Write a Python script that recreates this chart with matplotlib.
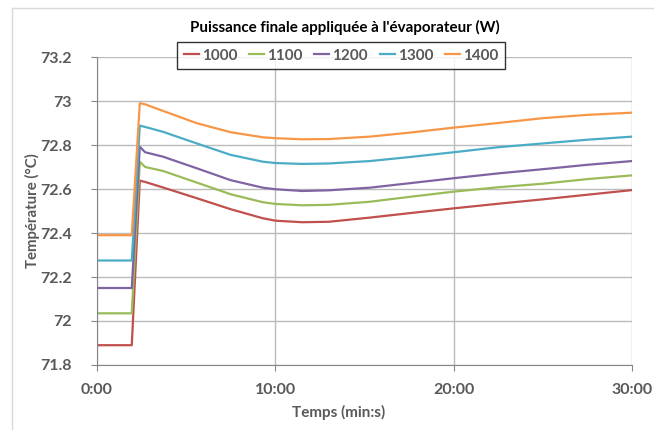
import numpy as np
import matplotlib
matplotlib.use('Agg')
import matplotlib.pyplot as plt
from matplotlib.ticker import FuncFormatter, MultipleLocator
from matplotlib.lines import Line2D

plt.rcParams['font.family'] = ['Lato', 'DejaVu Sans']

# temps en minutes
temps = [0, 1.95, 2.4, 2.7, 3.7, 5.6, 7.5, 9.3, 10, 11.5, 13, 15.3, 17.5, 20, 22.5, 25, 27.5, 30]

t1000 = [71.89, 71.89, 72.638, 72.632, 72.607, 72.558, 72.508, 72.467, 72.456, 72.449, 72.451,
         72.47, 72.49, 72.512, 72.533, 72.553, 72.574, 72.595]
t1100 = [72.035, 72.035, 72.724, 72.70, 72.682, 72.629, 72.576, 72.54, 72.532, 72.526, 72.528,
         72.542, 72.564, 72.588, 72.608, 72.624, 72.645, 72.662]
t1200 = [72.15, 72.15, 72.792, 72.767, 72.747, 72.694, 72.64, 72.606, 72.599, 72.591, 72.594,
         72.606, 72.626, 72.649, 72.671, 72.69, 72.71, 72.727]
t1300 = [72.275, 72.275, 72.888, 72.882, 72.86, 72.807, 72.755, 72.724, 72.718, 72.714, 72.716,
         72.727, 72.745, 72.767, 72.79, 72.807, 72.824, 72.838]
t1400 = [72.39, 72.39, 72.99, 72.985, 72.955, 72.899, 72.858, 72.835, 72.831, 72.826, 72.827,
         72.838, 72.856, 72.879, 72.90, 72.922, 72.937, 72.947]

series = [t1000, t1100, t1200, t1300, t1400]
noms = ['1000', '1100', '1200', '1300', '1400']
couleurs = ['#C0504D', '#9BBB59', '#8064A2', '#4BACC6', '#F79646']

gris = '#595959'

fig = plt.figure(figsize=(6.54, 4.30), dpi=100)
ax = fig.add_axes([97/654, 65/430, 535/654, 308/430])

for y, nom, c in zip(series, noms, couleurs):
    ax.plot(temps, y, color=c, lw=1.6, label=nom)

ax.set_xlim(0, 30)
ax.set_ylim(71.8, 73.2)
ax.xaxis.set_major_locator(MultipleLocator(10))
ax.yaxis.set_major_locator(MultipleLocator(0.2))
ax.xaxis.set_major_formatter(FuncFormatter(lambda v, p: '%d:00' % int(round(v))))
ax.yaxis.set_major_formatter(FuncFormatter(lambda v, p: ('%.1f' % v).rstrip('0').rstrip('.')))

ax.grid(True, color='#bcbcbc', lw=1)
ax.set_axisbelow(True)
for s in ['top', 'right']:
    ax.spines[s].set_visible(False)
for s in ['left', 'bottom']:
    ax.spines[s].set_color('#868686')
ax.tick_params(axis='both', colors='#868686', length=4, labelcolor=gris, labelsize=11.5)
ax.tick_params(axis='y', pad=14)
ax.tick_params(axis='x', pad=9)
for lab in ax.get_xticklabels() + ax.get_yticklabels():
    lab.set_fontweight('bold')

ax.set_xlabel('Temps (min:s)', fontsize=11, fontweight='bold', color=gris)
ax.xaxis.set_label_coords(0.452, -0.13)
ax.set_ylabel('Température (°C)', fontsize=10.8, fontweight='bold', color=gris)
ax.yaxis.set_label_coords(-0.106, 0.5)

fig.text(345/654, 1 - 27/430, "Puissance finale appliquée à l'évaporateur (W)",
         ha='center', va='center', fontsize=10.9, fontweight='bold', color='black')

leg = fig.legend(loc='center', bbox_to_anchor=(341/654, 1 - 55.5/430), ncol=5,
                 frameon=True, fancybox=False, handlelength=1.0, handletextpad=0.2,
                 columnspacing=0.75, borderpad=0.45,
                 prop={'weight': 'bold', 'size': 11})
leg.get_frame().set_edgecolor('black')
leg.get_frame().set_linewidth(1.0)
for txt in leg.get_texts():
    txt.set_color(gris)

# cadre gris clair du graphique
fig.add_artist(Line2D([12/654, 1], [1 - 8/430, 1 - 8/430], transform=fig.transFigure,
                      color='#d9d9d9', lw=1))
fig.add_artist(Line2D([12/654, 12/654], [0, 1 - 8/430], transform=fig.transFigure,
                      color='#d9d9d9', lw=1))

fig.savefig('out.png', dpi=100)
